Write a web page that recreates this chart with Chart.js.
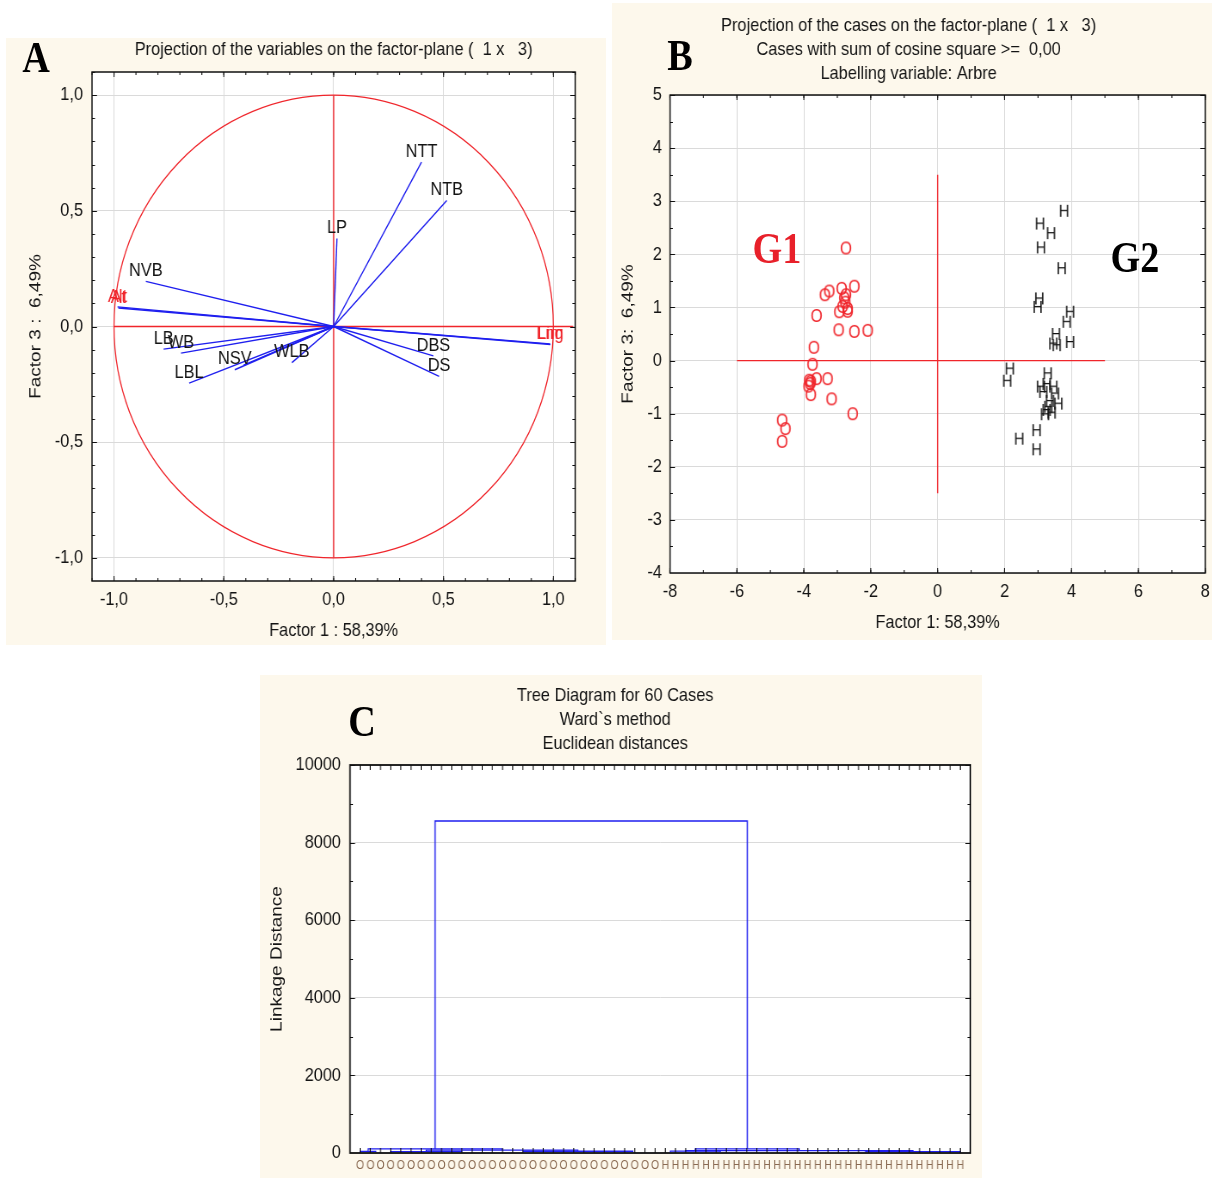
<!DOCTYPE html>
<html><head><meta charset="utf-8">
<script src="https://cdn.jsdelivr.net/npm/chart.js@4/dist/chart.umd.min.js"></script>
<style>
body{margin:0;background:#fff;width:1213px;height:1178px;position:relative;overflow:hidden;}
.panel{position:absolute;background:#fdf8ec;}
.panel canvas{position:absolute;left:0;top:0;transform-origin:0 0;transform:scaleX(0.86);}
.big{position:absolute;font-family:'Liberation Serif','Times New Roman',serif;font-weight:bold;line-height:1;font-size:45px;transform:translate(-50%,-50%) scaleX(0.85);white-space:nowrap;}
</style></head><body>
<div class="panel" style="left:6px;top:38px;width:600px;height:607px"><canvas id="cA" width="698" height="607"></canvas></div>
<div class="panel" style="left:612px;top:3px;width:600px;height:637px"><canvas id="cB" width="698" height="637"></canvas></div>
<div class="panel" style="left:260px;top:675px;width:722px;height:503px"><canvas id="cC" width="840" height="503"></canvas></div>
<div class="big" style="left:36px;top:57px;color:#000">A</div>
<div class="big" style="left:680px;top:55px;color:#000">B</div>
<div class="big" style="left:362px;top:721px;color:#000">C</div>
<div class="big" style="left:777px;top:248px;color:#e8202a">G1</div>
<div class="big" style="left:1135px;top:257px;color:#000">G2</div>
<script>
// ---------- DATA ----------
// Panel A: variable loadings on factor 1 / factor 3
const varNames  = ['NTT','NTB','LP','NVB','Alt','At','LB','WB','NSV','','LBL','WLB','DBS','DS','Lim','Lng'];
const varF1     = [0.40, 0.515, 0.015, -0.855, -0.984, -0.98, -0.774, -0.695, -0.45, -0.41, -0.658, -0.19, 0.454, 0.48, 0.987, 0.985];
const varF3     = [0.71, 0.545, 0.38, 0.195, 0.085, 0.08, -0.098, -0.115, -0.187, -0.167, -0.245, -0.156, -0.127, -0.216, -0.078, -0.075];
const varLabelRed = ['Alt','At','Lim','Lng'];
const ticksA = [-1.0, -0.5, 0.0, 0.5, 1.0];
const refAx = [-1, 1.09], refAy = [0, 0];        // red horizontal axis
const refAvx = [0, 0],    refAvy = [-1, 1];      // red vertical axis

// Panel B: case scores (group O = G1, group H = G2)
const g1x = [-2.74,-2.49,-2.87,-3.24,-3.37,-2.74,-2.79,-2.84,-2.69,-2.94,-3.62,-2.96,-2.49,-2.09,-3.70,-3.74,-3.62,-3.84,-3.81,-3.86,-3.29,-3.79,-3.17,-2.54,-4.65,-4.55,-4.65,-3.79,-2.76,-2.69];
const g1y = [2.11,1.39,1.35,1.30,1.23,1.23,1.17,1.01,0.97,0.91,0.84,0.57,0.54,0.56,0.24,-0.08,-0.35,-0.38,-0.44,-0.49,-0.35,-0.65,-0.73,-1.01,-1.13,-1.29,-1.53,-0.40,1.09,0.92];
const g2x = [3.78,3.06,3.39,3.09,3.71,3.04,2.99,3.96,3.86,3.54,3.46,3.96,3.56,2.16,2.08,3.29,3.09,3.26,3.16,3.51,3.61,3.36,3.26,3.41,3.21,3.31,2.96,2.44,2.96,3.46];
const g2y = [2.82,2.58,2.40,2.13,1.74,1.17,1.01,0.92,0.73,0.50,0.32,0.35,0.29,-0.15,-0.38,-0.24,-0.49,-0.44,-0.59,-0.62,-0.81,-0.76,-0.93,-0.98,-1.01,-0.87,-1.31,-1.47,-1.67,-0.49];
const ticksBx = [-8,-6,-4,-2,0,2,4,6,8];
const ticksBy = [-4,-3,-2,-1,0,1,2,3,4,5];
const refBx = [-6, 5], refBy = [0, 0];
const refBvx = [0, 0], refBvy = [-2.5, 3.5];

// Panel C: dendrogram (Ward, Euclidean)
const leafLabels = Array(30).fill('O').concat(Array(30).fill('H'));
const linkX1    = [8.36, 1.77, 7.5, 1.0, 17, 4, 33.94, 31.5, 33, 50.7];
const linkX2    = [39.06, 14.95, 22.4, 2.54, 27.8, 11, 44.18, 36.4, 55.36, 60];
const linkH     = [8557, 105, 75, 40, 45, 35, 105, 50, 60, 35];
const linkBase1 = [105, 40, 35, 0, 25, 15, 50, 20, 30, 15];
const linkBase2 = [105, 75, 45, 20, 20, 15, 60, 25, 35, 0];
const ticksCy = [0, 2000, 4000, 6000, 8000, 10000];

// ---------- STYLE ----------
const K = 0.86; // horizontal compression applied to every canvas (CSS scaleX)
const h = v => v / K;  // convert a real horizontal size to canvas units
const FONT = "'Liberation Sans',Arial,sans-serif";
const RED = '#f0252b', BLUE = '#1f1fef', TXT = '#141414';
Chart.defaults.font.family = FONT;
Chart.defaults.font.size = 19;
Chart.defaults.font.lineHeight = 24 / 19;
Chart.defaults.color = TXT;
Chart.defaults.animation = false;
Chart.defaults.events = [];
Chart.defaults.plugins.legend.display = false;
Chart.defaults.plugins.tooltip.enabled = false;

function range(a, b, s) { const r = []; for (let v = a; v <= b + 1e-9; v += s) r.push(+v.toFixed(6)); return r; }

const framePlugin = {
  id: 'frameTicks',
  beforeDraw(chart) {
    const {ctx, chartArea: a} = chart;
    ctx.save(); ctx.fillStyle = '#fff'; ctx.fillRect(a.left, a.top, a.right - a.left, a.bottom - a.top); ctx.restore();
  },
  afterDraw(chart, args, o) {
    const {ctx, chartArea: a, scales: {x, y}} = chart;
    ctx.save();
    ctx.strokeStyle = '#111'; ctx.lineWidth = 1.1;
    const r = v => Math.round(v) + 0.5;
    const drawX = (vals, len) => vals.forEach(v => { const p = x.getPixelForValue(v); if (p < a.left || p > a.right) return;
      ctx.beginPath(); ctx.moveTo(p, a.bottom); ctx.lineTo(p, a.bottom - len); ctx.moveTo(p, a.top); ctx.lineTo(p, a.top + len); ctx.stroke(); });
    const drawY = (vals, len) => vals.forEach(v => { const p = r(y.getPixelForValue(v)); if (p < a.top || p > a.bottom) return;
      ctx.beginPath(); ctx.moveTo(a.left, p); ctx.lineTo(a.left + h(len), p); ctx.moveTo(a.right, p); ctx.lineTo(a.right - h(len), p); ctx.stroke(); });
    drawX(o.xMajor || [], 5); drawX(o.xMinor || [], 3);
    drawY(o.yMajor || [], 5); drawY(o.yMinor || [], 3);
    ctx.lineWidth = o.frameWidth || 1.5;
    ctx.strokeRect(a.left, a.top, a.right - a.left, a.bottom - a.top);
    ctx.restore();
  }
};

const circlePlugin = {
  id: 'unitCircle',
  beforeDatasetsDraw(chart, args, o) {
    if (!o.show) return;
    const {ctx, chartArea: a, scales: {x, y}} = chart;
    const cx = x.getPixelForValue(0), cy = y.getPixelForValue(0);
    ctx.save();
    ctx.beginPath(); ctx.rect(a.left, a.top, a.right - a.left, a.bottom - a.top); ctx.clip();
    ctx.strokeStyle = RED; ctx.lineWidth = 1.3;
    ctx.beginPath();
    ctx.ellipse(cx, cy, x.getPixelForValue(1) - cx, cy - y.getPixelForValue(1), 0, 0, Math.PI * 2);
    ctx.stroke();
    ctx.restore();
  }
};

const labelPlugin = {
  id: 'varLabels',
  afterDatasetsDraw(chart, args, o) {
    if (!o.show) return;
    const {ctx, scales: {x, y}} = chart;
    ctx.save();
    ctx.font = '19px ' + FONT; ctx.textAlign = 'center'; ctx.textBaseline = 'middle';
    varNames.forEach((n, i) => {
      if (!n) return;
      ctx.fillStyle = varLabelRed.includes(n) ? RED : TXT;
      ctx.fillText(n, x.getPixelForValue(varF1[i]), y.getPixelForValue(varF3[i]) - 10.5);
    });
    ctx.restore();
  }
};

function fixTicks(list) { return s => { s.ticks = list.map(v => ({value: v})); }; }
function fitH(hh) { return s => { s.height = hh; s.paddingLeft = 0; s.paddingRight = 0; }; }
function fitW(w) { return s => { s.width = w; s.paddingTop = 0; s.paddingBottom = 0; }; }
const comma1 = v => (Math.abs(v) < 1e-9 ? 0 : v).toFixed(1).replace('.', ',');

function line(xs, ys, color, w) {
  return {data: xs.map((v, i) => ({x: v, y: ys[i]})), showLine: true, borderColor: color, borderWidth: w, pointRadius: 0, fill: false};
}

// ---------- PANEL A ----------
const dsA = varNames.map((n, i) => line([0, varF1[i]], [0, varF3[i]], BLUE, 1.4));
dsA.push(line(refAx, refAy, RED, 1.3), line(refAvx, refAvy, RED, 1.4));
new Chart(document.getElementById('cA'), {
  type: 'scatter',
  data: {datasets: dsA},
  options: {
    responsive: false,
    layout: {padding: {left: 0, right: h(31), top: 0, bottom: 0}, autoPadding: false},
    plugins: {
      title: {display: true, text: 'Projection of the variables on the factor-plane (  1 x   3)', fullSize: false,
        padding: {top: 0, bottom: 10}, font: {size: 19, weight: 'normal'}, color: TXT},
      frameTicks: {xMajor: ticksA, xMinor: range(-1.1, 1.1, 0.1), yMajor: ticksA, yMinor: range(-1.1, 1.1, 0.1), frameWidth: 1.5},
      unitCircle: {show: true}, varLabels: {show: true}
    },
    scales: {
      x: {type: 'linear', min: -1.1, max: 1.1, afterBuildTicks: fixTicks(ticksA), afterFit: fitH(64),
        grid: {color: '#dadada', drawTicks: false}, border: {display: false},
        ticks: {padding: 7, callback: comma1, maxRotation: 0, autoSkip: false, color: TXT},
        title: {display: true, text: 'Factor 1 : 58,39%', padding: {top: 0, bottom: 2}, color: TXT}},
      y: {type: 'linear', min: -1.1, max: 1.1, afterBuildTicks: fixTicks(ticksA), afterFit: fitW(h(86)),
        grid: {color: '#dadada', drawTicks: false}, border: {display: false},
        ticks: {padding: h(9), callback: comma1, autoSkip: false, color: TXT},
        title: {display: true, text: 'Factor 3 :  6,49%', padding: {top: h(30) - 12, bottom: 0}, color: TXT}}
    }
  },
  plugins: [framePlugin, circlePlugin, labelPlugin]
});

// ---------- PANEL B ----------
function glyph(ch, color, size) {
  const c = document.createElement('canvas'); c.width = 20; c.height = 24;
  const g = c.getContext('2d'); g.font = size + 'px ' + FONT; g.fillStyle = color;
  g.textAlign = 'center'; g.textBaseline = 'middle'; g.fillText(ch, 10, 13);
  return c;
}
const glyphO = glyph('O', RED, 18), glyphH = glyph('H', '#111', 17);
new Chart(document.getElementById('cB'), {
  type: 'scatter',
  data: {datasets: [
    {data: g1x.map((v, i) => ({x: v, y: g1y[i]})), pointStyle: glyphO, pointRadius: 5},
    {data: g2x.map((v, i) => ({x: v, y: g2y[i]})), pointStyle: glyphH, pointRadius: 5},
    line(refBx, refBy, RED, 1.3), line(refBvx, refBvy, RED, 1.4)
  ]},
  options: {
    responsive: false,
    layout: {padding: {left: 0, right: h(7), top: 0, bottom: 0}, autoPadding: false},
    plugins: {
      title: {display: true, text: ['Projection of the cases on the factor-plane (  1 x   3)', 'Cases with sum of cosine square >=  0,00', 'Labelling variable: Arbre'],
        padding: {top: 11, bottom: 9}, font: {size: 19, weight: 'normal'}, color: TXT},
      frameTicks: {xMajor: ticksBx, xMinor: range(-8, 8, 1), yMajor: ticksBy, yMinor: range(-4, 5, 0.5), frameWidth: 1.5}
    },
    scales: {
      x: {type: 'linear', min: -8, max: 8, afterBuildTicks: fixTicks(ticksBx), afterFit: fitH(67),
        grid: {color: '#dadada', drawTicks: false}, border: {display: false},
        ticks: {padding: 7, maxRotation: 0, autoSkip: false, color: TXT},
        title: {display: true, text: 'Factor 1: 58,39%', padding: {top: 0, bottom: 5}, color: TXT}},
      y: {type: 'linear', min: -4, max: 5, afterBuildTicks: fixTicks(ticksBy), afterFit: fitW(h(58)),
        grid: {color: '#dadada', drawTicks: false}, border: {display: false},
        ticks: {padding: h(8), autoSkip: false, color: TXT},
        title: {display: true, text: 'Factor 3:  6,49%', padding: {top: h(16) - 12, bottom: 0}, color: TXT}}
    }
  },
  plugins: [framePlugin]
});

// ---------- PANEL C ----------
const dsC = linkX1.map((x1, i) => line([x1, x1, linkX2[i], linkX2[i]], [linkBase1[i], linkH[i], linkH[i], linkBase2[i]], BLUE, i === 0 ? 1.5 : 1.3));
const leafPos = leafLabels.map((l, i) => i + 1);
new Chart(document.getElementById('cC'), {
  type: 'scatter',
  data: {datasets: dsC},
  options: {
    responsive: false,
    layout: {padding: {left: 0, right: h(12), top: 0, bottom: 0}, autoPadding: false},
    plugins: {
      title: {display: true, text: ['Tree Diagram for 60 Cases', 'Ward`s method', 'Euclidean distances'],
        padding: {top: 9, bottom: 9}, font: {size: 19, weight: 'normal'}, color: TXT},
      frameTicks: {xMajor: leafPos, xMinor: [], yMajor: ticksCy, yMinor: range(0, 10000, 1000), frameWidth: 1.8}
    },
    scales: {
      x: {type: 'linear', min: 0, max: 61, afterBuildTicks: fixTicks(leafPos), afterFit: fitH(25),
        grid: {display: false, drawTicks: false}, border: {display: false},
        ticks: {padding: 6, maxRotation: 0, minRotation: 0, autoSkip: false, font: {size: 12, lineHeight: 1.1}, color: '#8a6a52',
          callback: v => leafLabels[Math.round(v) - 1] || ''}},
      y: {type: 'linear', min: 0, max: 10000, afterBuildTicks: fixTicks(ticksCy), afterFit: fitW(h(90)),
        grid: {color: '#dadada', drawTicks: false}, border: {display: false},
        ticks: {padding: h(9), autoSkip: false, color: TXT, callback: v => String(v)},
        title: {display: true, text: 'Linkage Distance', padding: {top: h(17) - 12, bottom: 0}, color: TXT}}
    }
  },
  plugins: [framePlugin]
});
</script>
</body></html>
